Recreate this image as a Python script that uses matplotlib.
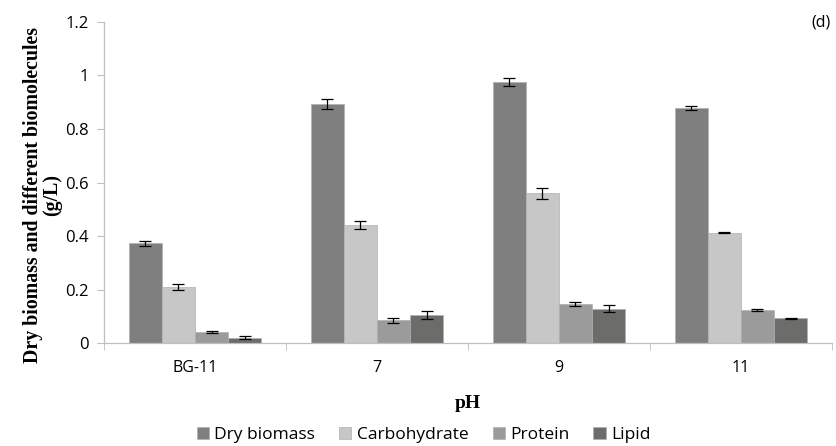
import numpy as np
import matplotlib.pyplot as plt

# data
categories = ["BG-11", "7", "9", "11"]
series = ["Dry biomass", "Carbohydrate", "Protein", "Lipid"]
dry_biomass = [0.374, 0.893, 0.975, 0.879]
carbohydrate = [0.211, 0.442, 0.560, 0.413]
protein = [0.043, 0.086, 0.148, 0.125]
lipid = [0.022, 0.106, 0.130, 0.093]
dry_err = [0.009, 0.019, 0.015, 0.007]
carb_err = [0.012, 0.014, 0.021, 0.002]
prot_err = [0.005, 0.008, 0.007, 0.005]
lipid_err = [0.004, 0.015, 0.014, 0.003]

values = [dry_biomass, carbohydrate, protein, lipid]
errors = [dry_err, carb_err, prot_err, lipid_err]
colors = ["#7f7f7f", "#c6c7c6", "#9a9b9a", "#6c6c6b"]

tick_font = "Open Sans"
label_font = "Liberation Serif"

fig = plt.figure(figsize=(8.36, 4.46), dpi=100)
ax = fig.add_axes([0.1244, 0.230, 0.8706, 0.721])

x = np.arange(len(categories))
bar_w = 0.182
for i in range(len(series)):
    pos = x + (i - 1.5) * bar_w
    ax.bar(pos, values[i], width=bar_w, color=colors[i], edgecolor="#b0b0b0",
           linewidth=0.5, label=series[i])
    ax.errorbar(pos, values[i], yerr=errors[i], fmt="none", ecolor="black",
                elinewidth=0.9, capsize=4, capthick=0.9)

ax.set_xlim(-0.5, len(categories) - 0.5)
ax.set_ylim(0, 1.2)
ax.set_yticks(np.arange(0, 1.21, 0.2))
ax.set_yticklabels(["0", "0.2", "0.4", "0.6", "0.8", "1", "1.2"],
                   fontfamily=tick_font, fontsize=12)

# category labels in the middle, tick marks on category boundaries
ax.set_xticks(x)
ax.set_xticklabels(categories, fontfamily=tick_font, fontsize=11.5)
ax.tick_params(axis="x", length=0, pad=12)
ax.set_xticks(np.arange(-0.5, len(categories)), minor=True)
ax.tick_params(axis="x", which="minor", length=5, color="#bfbfbf", direction="out")
ax.tick_params(axis="y", length=5, color="#bfbfbf", direction="out", pad=6)

for s in ["top", "right"]:
    ax.spines[s].set_visible(False)
for s in ["left", "bottom"]:
    ax.spines[s].set_color("#bfbfbf")
    ax.spines[s].set_linewidth(0.9)

ax.set_ylabel("Dry biomass and different biomolecules\n(g/L)", fontfamily=label_font,
              fontweight="bold", fontsize=14.3, linespacing=0.9)
ax.yaxis.set_label_coords(-0.058, 0.461)
ax.set_xlabel("pH", fontfamily=label_font, fontweight="bold", fontsize=14)
ax.xaxis.label.set_va("center")
ax.xaxis.set_label_coords(0.5, -0.187)

fig.text(0.982, 0.95, "(d)", fontfamily=tick_font, fontsize=11.5, ha="center", va="center")

fig.legend(loc="center", bbox_to_anchor=(0.5066, 0.025), ncol=4, frameon=False,
           prop={"family": tick_font, "size": 12.5}, handlelength=0.7, handleheight=0.7,
           handletextpad=0.3, columnspacing=1.4)

plt.savefig("out.png", dpi=100)
